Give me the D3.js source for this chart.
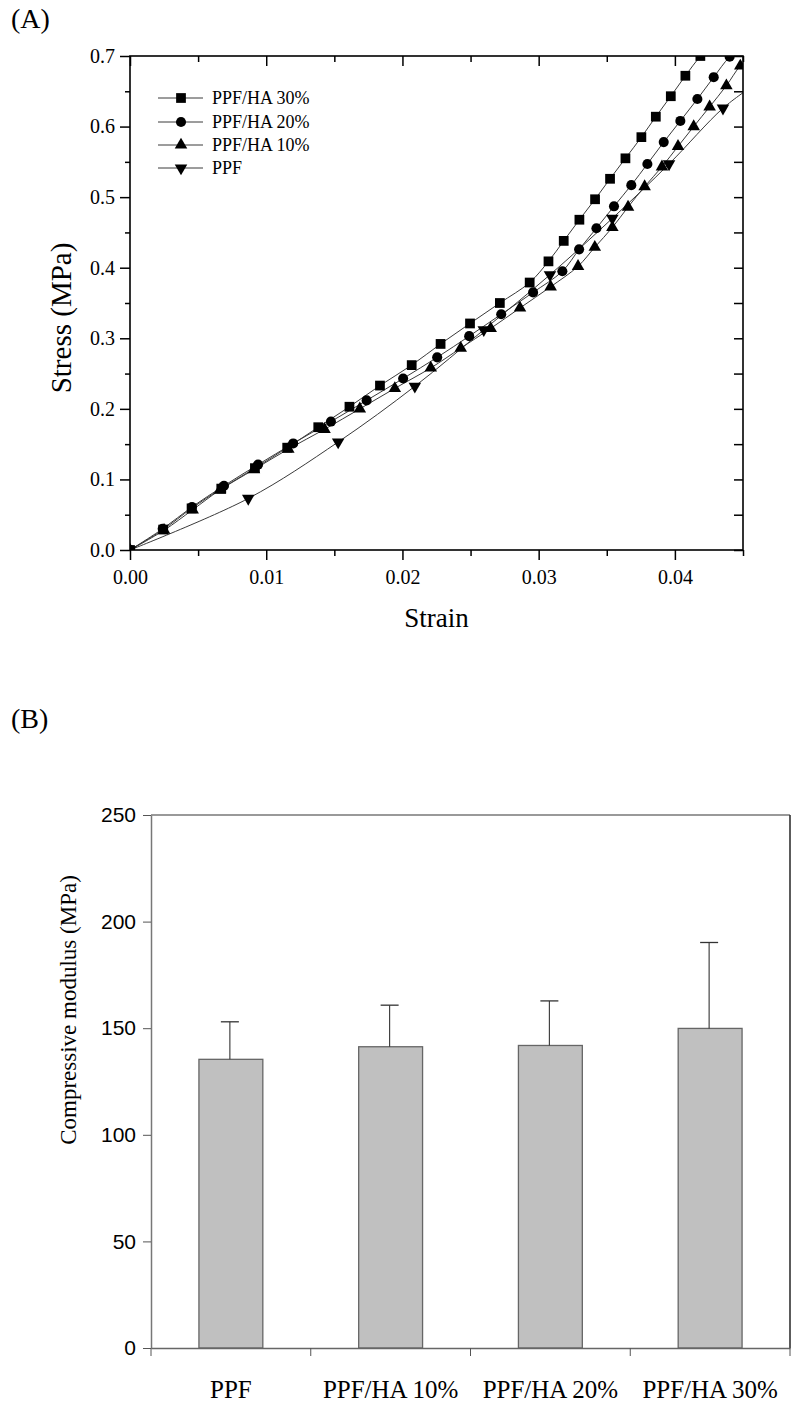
<!DOCTYPE html>
<html>
<head>
<meta charset="utf-8">
<script src="https://cdn.jsdelivr.net/npm/d3@7"></script>
<style>
  html, body { margin: 0; padding: 0; background: #fff; }
  svg { display: block; }
</style>
</head>
<body>
<svg id="chart" width="800" height="1408"></svg>
<script>
// ---------- Panel A data: stress-strain curves ----------
const seriesNames = ["PPF/HA 30%", "PPF/HA 20%", "PPF/HA 10%", "PPF"];
const strainHA30 = [0, 0.00244, 0.00452, 0.0067, 0.00917, 0.01154, 0.01382, 0.01611, 0.01835, 0.02068, 0.0228, 0.02496, 0.02715, 0.02934, 0.03072, 0.03184, 0.03299, 0.03414, 0.03524, 0.03637, 0.03754, 0.0386, 0.0397, 0.04077, 0.04187];
const stressHA30 = [0, 0.029, 0.059, 0.087, 0.116, 0.145, 0.174, 0.203, 0.233, 0.262, 0.292, 0.321, 0.350, 0.379, 0.409, 0.438, 0.468, 0.497, 0.526, 0.555, 0.585, 0.614, 0.643, 0.672, 0.700];
const strainHA20 = [0, 0.0024, 0.00455, 0.0069, 0.0094, 0.01198, 0.01475, 0.01737, 0.02005, 0.02255, 0.0249, 0.02725, 0.02959, 0.03174, 0.03297, 0.03424, 0.03553, 0.0368, 0.03798, 0.03918, 0.0404, 0.04165, 0.04285, 0.04402];
const stressHA20 = [0, 0.030, 0.061, 0.091, 0.121, 0.151, 0.182, 0.212, 0.243, 0.273, 0.303, 0.334, 0.365, 0.395, 0.426, 0.456, 0.487, 0.517, 0.547, 0.578, 0.608, 0.639, 0.670, 0.699];
const strainHA10 = [0, 0.0025, 0.0046, 0.0066, 0.0091, 0.01162, 0.01428, 0.01687, 0.01944, 0.02208, 0.02428, 0.02648, 0.02863, 0.03088, 0.03289, 0.03412, 0.03541, 0.03656, 0.03778, 0.03905, 0.04023, 0.04138, 0.04255, 0.04378, 0.0448];
const stressHA10 = [0, 0.028, 0.057, 0.085, 0.114, 0.143, 0.171, 0.200, 0.229, 0.258, 0.286, 0.314, 0.343, 0.373, 0.402, 0.429, 0.457, 0.486, 0.515, 0.543, 0.572, 0.600, 0.628, 0.658, 0.686];
const strainPPF = [0, 0.00868, 0.01528, 0.02091, 0.02597, 0.03083, 0.03541, 0.03957, 0.04353];
const stressPPF = [0, 0.073, 0.153, 0.232, 0.312, 0.390, 0.470, 0.547, 0.626];
// where each measured curve continues past its last marker (clipped by the frame)
const lineEndStrain = [0.0432, 0.0456, 0.0456, 0.0456];
const lineEndStress = [0.730, 0.726, 0.699, 0.656];
const xTicksA = [0, 0.01, 0.02, 0.03, 0.04];
const xMinorA = [0.005, 0.015, 0.025, 0.035, 0.045];
const yTicksA = [0, 0.1, 0.2, 0.3, 0.4, 0.5, 0.6, 0.7];
const yMinorA = [0.05, 0.15, 0.25, 0.35, 0.45, 0.55, 0.65];

// ---------- Panel B data: compressive modulus ----------
const categories = ["PPF", "PPF/HA 10%", "PPF/HA 20%", "PPF/HA 30%"];
const modulus = [135.4, 141.3, 141.9, 149.9];
const modulusErr = [17.6, 19.5, 20.9, 40.3];
const yTicksB = [0, 50, 100, 150, 200, 250];

const SERIF = '"Liberation Serif", "Times New Roman", Times, serif';
const SANS = '"Liberation Sans", Arial, Helvetica, sans-serif';

const svg = d3.select("#chart");

// ================= Panel A =================
const xA = d3.scaleLinear().domain([0, 0.045]).range([130, 743]);
const yA = d3.scaleLinear().domain([0, 0.7]).range([550, 56]);

function txt(sel, family, size) {
  return sel.style("font-family", family).style("font-size", size + "px").attr("fill", "#000");
}

txt(svg.append("text").attr("x", 11).attr("y", 28).text("(A)"), SERIF, 28);

svg.append("clipPath").attr("id", "clipA").append("rect")
  .attr("x", xA(0)).attr("y", yA(0.7)).attr("width", xA(0.045) - xA(0)).attr("height", yA(0) - yA(0.7));

const seriesA = [
  { name: seriesNames[0], xs: strainHA30, ys: stressHA30, sym: d3.symbolSquare, size: 95, rot: 0 },
  { name: seriesNames[1], xs: strainHA20, ys: stressHA20, sym: d3.symbolCircle, size: 80, rot: 0 },
  { name: seriesNames[2], xs: strainHA10, ys: stressHA10, sym: d3.symbolTriangle, size: 68, rot: 0 },
  { name: seriesNames[3], xs: strainPPF, ys: stressPPF, sym: d3.symbolTriangle, size: 68, rot: 180 }
];

const line = d3.line().x(d => xA(d[0])).y(d => yA(d[1])).curve(d3.curveCatmullRom.alpha(0.5));
const gData = svg.append("g").attr("clip-path", "url(#clipA)");
seriesA.forEach((s, i) => {
  const pts = s.xs.map((v, j) => [v, s.ys[j]]);
  pts.push([lineEndStrain[i], lineEndStress[i]]);
  gData.append("path").attr("d", line(pts)).attr("fill", "none")
    .attr("stroke", "#3a3a3a").attr("stroke-width", 1);
});
seriesA.forEach(s => {
  gData.selectAll(null).data(s.xs.map((v, j) => [v, s.ys[j]])).enter().append("path")
    .attr("d", d3.symbol().type(s.sym).size(s.size))
    .attr("transform", d => `translate(${xA(d[0])},${yA(d[1])}) rotate(${s.rot})`)
    .attr("fill", "#000");
});

// axes of panel A
function styleAxis(g) {
  g.attr("font-family", null).attr("font-size", null);
  g.selectAll(".domain").remove();
  g.selectAll("line").attr("stroke", "#000").attr("stroke-width", 1.5);
  txt(g.selectAll("text"), SERIF, 20);
}
const gxA = svg.append("g").attr("transform", `translate(0,${yA(0)})`)
  .call(d3.axisBottom(xA).tickValues(xTicksA).tickFormat(d3.format(".2f")).tickSize(10).tickPadding(10));
styleAxis(gxA);
const gxAm = svg.append("g").attr("transform", `translate(0,${yA(0)})`)
  .call(d3.axisBottom(xA).tickValues(xMinorA).tickFormat("").tickSize(6));
styleAxis(gxAm);
const gtA = svg.append("g").attr("transform", `translate(0,${yA(0.7)})`)
  .call(d3.axisBottom(xA).tickValues(xTicksA).tickFormat("").tickSize(10));
styleAxis(gtA);
const gtAm = svg.append("g").attr("transform", `translate(0,${yA(0.7)})`)
  .call(d3.axisBottom(xA).tickValues(xMinorA).tickFormat("").tickSize(6));
styleAxis(gtAm);
const gyA = svg.append("g").attr("transform", `translate(${xA(0)},0)`)
  .call(d3.axisLeft(yA).tickValues(yTicksA).tickFormat(d3.format(".1f")).tickSize(10).tickPadding(5));
styleAxis(gyA);
const gyAm = svg.append("g").attr("transform", `translate(${xA(0)},0)`)
  .call(d3.axisLeft(yA).tickValues(yMinorA).tickFormat("").tickSize(5));
styleAxis(gyAm);
const grA = svg.append("g").attr("transform", `translate(${xA(0.045)},0)`)
  .call(d3.axisLeft(yA).tickValues(yTicksA.concat(yMinorA)).tickFormat("").tickSize(9));
styleAxis(grA);
svg.append("rect").attr("x", xA(0)).attr("y", yA(0.7)).attr("width", xA(0.045) - xA(0))
  .attr("height", yA(0) - yA(0.7)).attr("fill", "none").attr("stroke", "#000").attr("stroke-width", 1.6);

txt(svg.append("text").attr("text-anchor", "middle")
  .attr("x", (xA(0) + xA(0.045)) / 2).attr("y", 627).text("Strain"), SERIF, 27);
txt(svg.append("text").attr("text-anchor", "middle")
  .attr("transform", "translate(71,318) rotate(-90)").text("Stress (MPa)"), SERIF, 29);

// legend
const legY = [98, 122, 145, 168];
seriesA.forEach((s, i) => {
  const g = svg.append("g").attr("transform", `translate(0,${legY[i]})`);
  g.append("line").attr("x1", 158).attr("x2", 203).attr("y1", 0).attr("y2", 0)
    .attr("stroke", "#3a3a3a").attr("stroke-width", 1);
  g.append("path").attr("d", d3.symbol().type(s.sym).size(s.size))
    .attr("transform", `translate(181,0) rotate(${s.rot})`).attr("fill", "#000");
  txt(g.append("text").attr("x", 212).attr("y", 6).text(s.name), SERIF, 18);
});

// ================= Panel B =================
const xB = d3.scaleBand().domain(categories).range([151, 790]).padding(0);
const yB = d3.scaleLinear().domain([0, 250]).range([1348, 815]);

txt(svg.append("text").attr("x", 11).attr("y", 728).text("(B)"), SERIF, 28);

const barW = xB.bandwidth() * 0.4;
svg.selectAll(".bar").data(categories).enter().append("rect")
  .attr("x", d => xB(d) + xB.bandwidth() / 2 - barW / 2)
  .attr("y", (d, i) => yB(modulus[i]))
  .attr("width", barW)
  .attr("height", (d, i) => yB(0) - yB(modulus[i]))
  .attr("fill", "#c0c0c0").attr("stroke", "#666").attr("stroke-width", 1.3);

// error bars (upper only)
categories.forEach((c, i) => {
  const cx = xB(c) + xB.bandwidth() / 2 - 1;
  svg.append("line").attr("x1", cx).attr("x2", cx)
    .attr("y1", yB(modulus[i])).attr("y2", yB(modulus[i] + modulusErr[i]))
    .attr("stroke", "#333").attr("stroke-width", 1.1);
  svg.append("line").attr("x1", cx - 9).attr("x2", cx + 9)
    .attr("y1", yB(modulus[i] + modulusErr[i])).attr("y2", yB(modulus[i] + modulusErr[i]))
    .attr("stroke", "#333").attr("stroke-width", 1.3);
});

// frame
svg.append("line").attr("x1", 151).attr("x2", 790).attr("y1", yB(250)).attr("y2", yB(250))
  .attr("stroke", "#777").attr("stroke-width", 1.3);
svg.append("line").attr("x1", 790).attr("x2", 790).attr("y1", yB(250)).attr("y2", yB(0))
  .attr("stroke", "#333").attr("stroke-width", 1.6);

const gyB = svg.append("g").attr("transform", "translate(151,0)")
  .call(d3.axisLeft(yB).tickValues(yTicksB).tickSize(8).tickSizeOuter(0).tickPadding(7));
gyB.attr("font-family", null).attr("font-size", null);
gyB.select(".domain").attr("stroke", "#777").attr("stroke-width", 1.5);
gyB.selectAll("line").attr("stroke", "#555");
txt(gyB.selectAll("text"), SANS, 21);

const gxB = svg.append("g").attr("transform", `translate(0,${yB(0)})`)
  .call(d3.axisBottom(xB).tickSize(0).tickSizeOuter(0).tickPadding(32));
gxB.attr("font-family", null).attr("font-size", null);
gxB.select(".domain").attr("stroke", "#666").attr("stroke-width", 1.3);
txt(gxB.selectAll("text"), SERIF, 25);
// boundary ticks between categories
const boundaries = categories.map(c => xB(c)).concat([xB.range()[1]]);
svg.selectAll(".btick").data(boundaries).enter().append("line")
  .attr("x1", d => d).attr("x2", d => d).attr("y1", yB(0)).attr("y2", yB(0) + 8)
  .attr("stroke", "#555").attr("stroke-width", 1);

txt(svg.append("text").attr("text-anchor", "middle")
  .attr("transform", "translate(76,1010) rotate(-90)").text("Compressive modulus (MPa)"), SERIF, 23);
</script>
</body>
</html>
